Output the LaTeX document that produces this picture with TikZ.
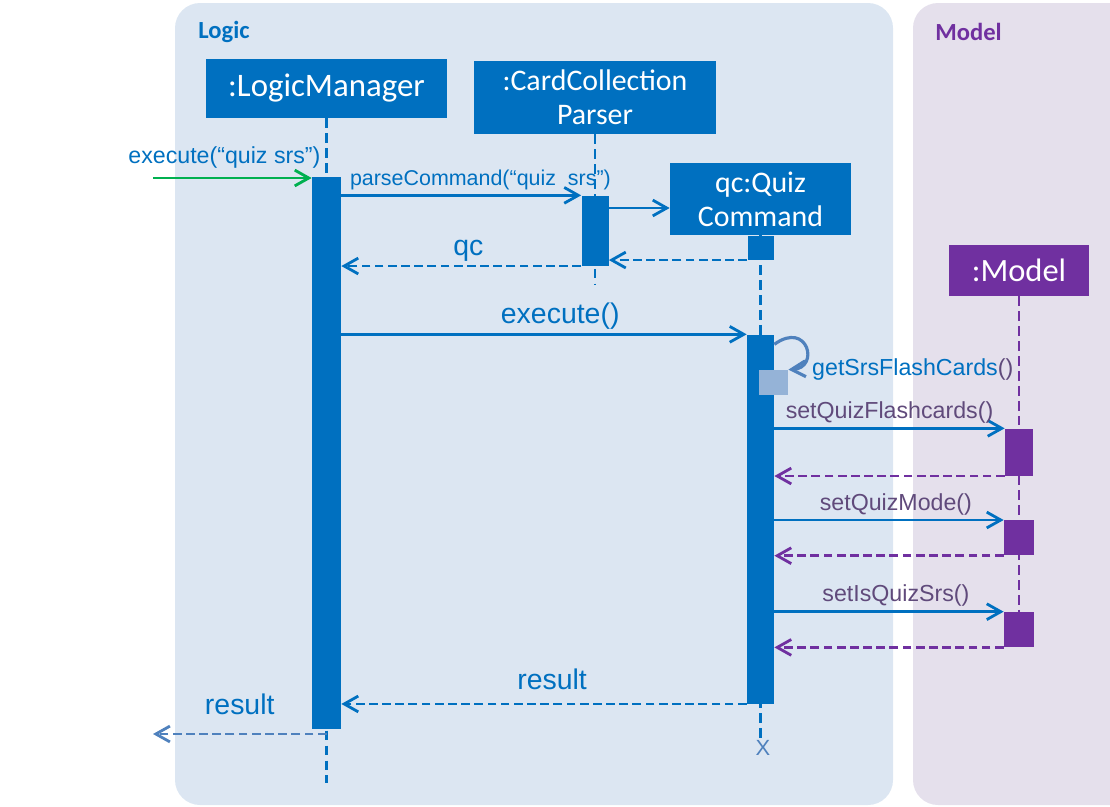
\documentclass[tikz,border=0pt]{standalone}
\usepackage{fontspec}
\setmainfont{Carlito}
\newfontfamily\msgfont{Liberation Sans}
\usepackage{tikz}
\usetikzlibrary{arrows.meta,positioning}
\definecolor{logicblue}{HTML}{0070C0}
\definecolor{logicbg}{HTML}{DCE6F2}
\definecolor{modelbg}{HTML}{E5E0EC}
\definecolor{modelpurple}{HTML}{7030A0}
\definecolor{labelpurple}{HTML}{604A7B}
\definecolor{paleblue}{HTML}{4F81BD}
\definecolor{selfblue}{HTML}{95B3D7}
\definecolor{callgreen}{HTML}{00B050}
\tikzset{
    %Define standard arrow tip
    >={Straight Barb[length=8pt,width=9pt]},
    %Define style for object boxes
    objbox/.style={
           rectangle,
           fill=logicblue,
           text=white,
           align=center,
           inner sep=0pt,
           font=\fontsize{17}{19.5}\selectfont},
    %Define style for activation bars
    actbar/.style={
           rectangle,
           fill=logicblue,
           inner sep=0pt,
           minimum width=0.56cm},
    % lifeline
    life/.style={
           draw=logicblue,
           line width=1.6pt,
           dash pattern=on 5.5pt off 3pt},
    % Define arrow styles
    msg/.style={
           ->,
           draw=logicblue,
           line width=1.6pt},
    ret/.style={
           ->,
           draw=logicblue,
           line width=1.6pt,
           dash pattern=on 5pt off 2.5pt},
    msglabel/.style={
           font=\msgfont\fontsize{13.2}{15}\selectfont,
           text=logicblue,
           inner sep=2pt},
    biglabel/.style={
           font=\msgfont\fontsize{16.2}{18}\selectfont,
           text=logicblue,
           inner sep=2pt}
}
\begin{document}
\begin{tikzpicture}[x=0.02cm,y=-0.02cm]
\useasboundingbox (0,0) rectangle (1110,806);
\clip (0,0) rectangle (1110,806);

% panels
\fill[logicbg, rounded corners=0.5cm] (175,3) rectangle (893,805);
\fill[modelbg, rounded corners=0.5cm] (913,3) rectangle (1140,805);
\node[anchor=west, inner sep=0pt, text=logicblue, font=\bfseries\fontsize{14}{15}\selectfont] (logic) at (198,32) {Logic};
\node[anchor=west, inner sep=0pt, text=modelpurple, font=\bfseries\fontsize{14}{15}\selectfont] (model) at (935,32) {Model};

% objects
\node[objbox, minimum width=4.82cm, minimum height=1.18cm, font=\fontsize{18.7}{20}\selectfont] (lm) at (326.5,88.5) {:LogicManager};
\node[objbox, minimum width=4.84cm, minimum height=1.46cm] (parser) at (595,97.5) {:CardCollection\\Parser};
\node[objbox, minimum width=3.62cm, minimum height=1.44cm] (quiz) at (760.5,199) {qc:Quiz\\Command};
\node[objbox, fill=modelpurple, minimum width=2.8cm, minimum height=1.02cm, font=\fontsize{18.5}{20}\selectfont] (mdl) at (1019,270.5) {:Model};

% lifelines
\draw[life] (lm.south) -- ++(0,665);
\draw[life] (parser.south) -- ++(0,151);
\draw[life] (quiz.south) -- ++(0,503);
\draw[life, draw=modelpurple] (mdl.south) -- ++(0,349);

% activation bars
\node[actbar, minimum width=0.58cm, minimum height=11.04cm, below=1.16cm of lm] (lmbar) {};
\node[actbar, minimum width=0.54cm, minimum height=1.4cm, below=1.22cm of parser] (pbar) {};
\node[actbar, minimum width=0.52cm, minimum height=0.48cm, below=0pt of quiz] (qbar0) {};
\node[actbar, minimum width=0.54cm, minimum height=7.38cm, below=1.98cm of quiz] (qbar) {};
\node[actbar, fill=modelpurple, minimum height=0.94cm, below=2.64cm of mdl] (mbar1) {};
\node[actbar, fill=modelpurple, minimum width=0.6cm, minimum height=0.7cm, below=0.88cm of mbar1] (mbar2) {};
\node[actbar, fill=modelpurple, minimum width=0.6cm, minimum height=0.7cm, below=1.12cm of mbar2] (mbar3) {};
\node[actbar, fill=selfblue, minimum width=0.58cm, minimum height=0.5cm] (self) at (773.5,382.5) {};

% messages
\coordinate (caller) at (153,178);
\coordinate (newq) at (640,208);
\coordinate (resout) at (153,734);
\draw[msg, draw=callgreen] (caller) -- (lmbar.west |- caller)
    node[msglabel, above=3pt, pos=0.45] {execute(“quiz srs”)};
\draw[msg] (lmbar.east |- pbar.north) -- (pbar.north west)
    node[msglabel, font=\msgfont\fontsize{12.2}{14}\selectfont, above, pos=0.58] {parseCommand(“quiz~ srs”)};
\draw[msg] (pbar.east |- newq) -- (quiz.west |- newq);
\draw[ret] (qbar0.south west) -- (pbar.east |- qbar0.south);
\draw[ret] (pbar.south west) -- (lmbar.east |- pbar.south)
    node[biglabel, above, pos=0.47] {qc};
\draw[msg] (lmbar.east |- qbar.north) -- (qbar.north west)
    node[biglabel, above, pos=0.54] {execute()};
\draw[->, draw=paleblue, line width=1.8pt] ([yshift=-0.2cm]qbar.north east) .. controls (808,320) and (820,368) .. (self.north east);
\node[msglabel, right=0.4cm of self.north east] (getsrs) {getSrsFlashCards\textcolor{labelpurple}{()}};
\draw[msg] (qbar.east |- mbar1.north) -- (mbar1.north west)
    node[msglabel, text=labelpurple, above, midway] {setQuizFlashcards()};
\draw[ret, draw=modelpurple] (mbar1.south west) -- (qbar.east |- mbar1.south);
\draw[msg] (qbar.east |- mbar2.north) -- (mbar2.north west)
    node[msglabel, text=labelpurple, above, pos=0.53] {setQuizMode()};
\draw[ret, draw=modelpurple] (mbar2.south west) -- (qbar.east |- mbar2.south);
\draw[msg] (qbar.east |- mbar3.north) -- (mbar3.north west)
    node[msglabel, text=labelpurple, above, pos=0.53] {setIsQuizSrs()};
\draw[ret, draw=modelpurple] (mbar3.south west) -- (qbar.east |- mbar3.south);
\draw[ret] (qbar.south west) -- (lmbar.east |- qbar.south)
    node[biglabel, above=5pt, pos=0.48] {result};
\draw[ret, draw=paleblue] (lmbar.south |- resout) -- (resout)
    node[biglabel, above=8pt, midway] {result};
\node[msglabel, text=paleblue, font=\msgfont\fontsize{12.5}{14}\selectfont] (destroy) at (763,748) {X};

\end{tikzpicture}
\end{document}
